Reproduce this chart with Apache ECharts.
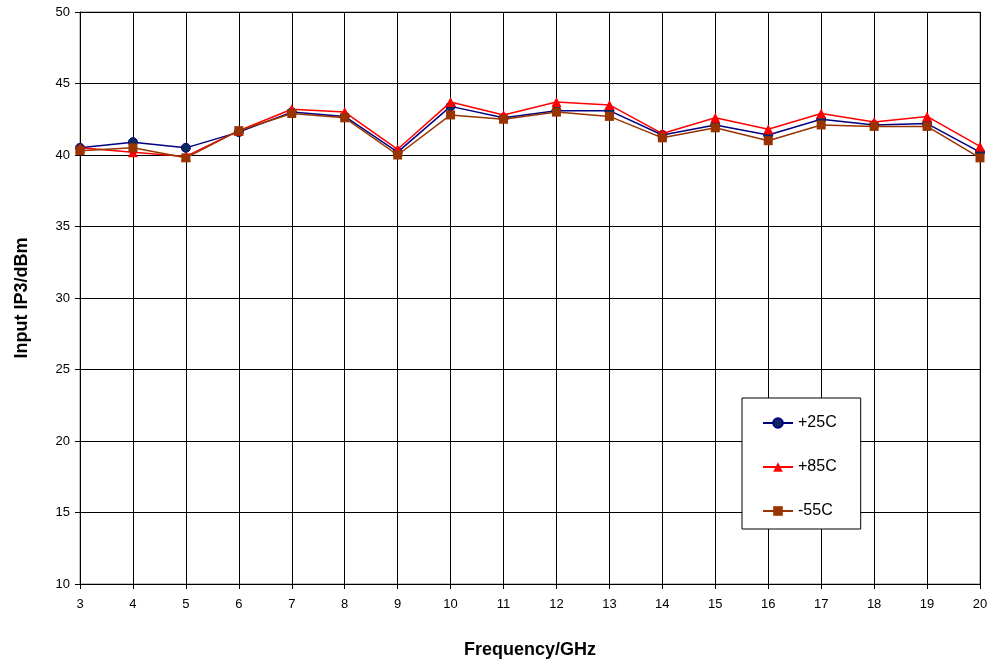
<!DOCTYPE html>
<html><head><meta charset="utf-8">
<script src="https://cdn.jsdelivr.net/npm/echarts@6/dist/echarts.min.js"></script>
<style>html,body{margin:0;padding:0;background:#fff}#c{width:994px;height:669px}</style>
</head><body><div id="c"></div>
<script>
const freqs = [3,4,5,6,7,8,9,10,11,12,13,14,15,16,17,18,19,20];
const s25 = [40.5,40.9,40.5,41.6,43.0,42.7,40.2,43.4,42.6,43.1,43.1,41.4,42.1,41.4,42.5,42.1,42.2,40.2];
const s85 = [40.5,40.2,39.9,41.7,43.2,43.0,40.4,43.7,42.8,43.7,43.5,41.5,42.6,41.8,42.9,42.3,42.7,40.6];
const sm55 = [40.3,40.5,39.8,41.7,42.9,42.6,40.0,42.8,42.5,43.0,42.7,41.2,41.9,41.0,42.1,42.0,42.0,39.8];
const names = ['+25C','+85C','-55C'];

const chart = echarts.init(document.getElementById('c'));
const mk = (arr) => arr.map((v,i)=>[freqs[i], v]);
const font = 'Arial, "Liberation Sans", sans-serif';
chart.setOption({
  animation:false,
  grid:{left:80,right:14,top:12,bottom:85,show:true,borderColor:'#808080',borderWidth:1,containLabel:false,outerBoundsMode:'none'},
  legend:{
    orient:'vertical', left:742, top:398, backgroundColor:'#fff', borderColor:'#000', borderWidth:1,
    padding:[17,24,10,20], itemGap:28, itemWidth:30, itemHeight:12,
    textStyle:{fontFamily:font,fontSize:16,color:'#000'},
    data:names
  },
  xAxis:{
    type:'value', min:3, max:20, interval:1,
    name:'Frequency/GHz', nameLocation:'middle', nameGap:57,
    nameTextStyle:{fontFamily:font,fontSize:18,fontWeight:'bold',color:'#000'},
    axisLine:{lineStyle:{color:'#000'}},
    axisTick:{show:true,length:5,lineStyle:{color:'#000'}},
    axisLabel:{fontFamily:font,fontSize:13,color:'#000',margin:14},
    splitLine:{show:true,lineStyle:{color:'#000',width:1}}
  },
  yAxis:{
    type:'value', min:10, max:50, interval:5,
    name:'Input IP3/dBm', nameLocation:'middle', nameGap:49,
    nameTextStyle:{fontFamily:font,fontSize:18,fontWeight:'bold',color:'#000'},
    axisLine:{show:true,lineStyle:{color:'#000'}},
    axisTick:{show:true,length:5,lineStyle:{color:'#000'}},
    axisLabel:{fontFamily:font,fontSize:13,color:'#000',margin:10},
    splitLine:{show:true,lineStyle:{color:'#000',width:1}}
  },
  series:[
    {name:names[0],type:'line',data:mk(s25),symbol:'circle',symbolSize:9,
     lineStyle:{color:'#000080',width:1.5},itemStyle:{color:'#0a2a5e',borderColor:'#000080',borderWidth:1},z:3},
    {name:names[1],type:'line',data:mk(s85),symbol:'triangle',symbolSize:10,
     lineStyle:{color:'#ff0000',width:1.5},itemStyle:{color:'#ff0000'},z:4},
    {name:names[2],type:'line',data:mk(sm55),symbol:'rect',symbolSize:9,
     lineStyle:{color:'#993300',width:1.5},itemStyle:{color:'#993300'},z:5}
  ]
});
</script></body></html>
